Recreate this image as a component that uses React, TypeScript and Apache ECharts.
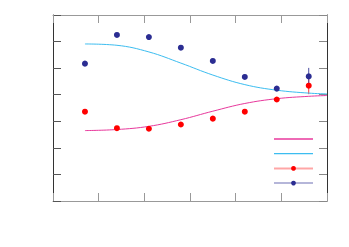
import React, { useEffect, useRef } from "react";
import * as echarts from "echarts";

const xPoints = [0.7, 1.4, 2.1, 2.8, 3.5, 4.2, 4.9, 5.6];
const redValues = [3.36, 2.74, 2.72, 2.88, 3.1, 3.36, 3.82, 4.34];
const blueValues = [5.17, 6.25, 6.17, 5.77, 5.27, 4.67, 4.23, 4.69];
const redErrors = [0.06, 0.06, 0.06, 0.06, 0.06, 0.06, 0.06, 0.32];
const blueErrors = [0.06, 0.06, 0.06, 0.06, 0.06, 0.06, 0.06, 0.32];

const curveX = [0.7, 1.4, 2.1, 2.8, 3.5, 4.2, 4.9, 5.6, 6.0];
const magentaCurve = [2.65, 2.69, 2.81, 3.06, 3.38, 3.67, 3.85, 3.94, 3.97];
const cyanCurve = [5.91, 5.86, 5.61, 5.19, 4.74, 4.38, 4.17, 4.06, 4.03];

const names = ["fit A", "fit B", "data A", "data B"];

export default function App() {
  const ref = useRef<HTMLDivElement>(null);
  useEffect(() => {
    if (!ref.current) return;
    const chart = echarts.init(ref.current, null, { renderer: "svg" });
    const pair = (xs: number[], ys: number[]) => xs.map((x, i) => [x, ys[i]]);
    const errData = (ys: number[], es: number[]) =>
      xPoints.map((x, i) => [x, ys[i] - es[i], ys[i] + es[i]]);
    const errSeries = (ys: number[], es: number[], color: string) => ({
      type: "custom",
      data: errData(ys, es),
      z: 1,
      renderItem: (_p: any, api: any) => {
        const a = api.coord([api.value(0), api.value(1)]);
        const b = api.coord([api.value(0), api.value(2)]);
        return {
          type: "line",
          shape: { x1: a[0], y1: a[1], x2: b[0], y2: b[1] },
          style: { stroke: color, lineWidth: 1 },
        };
      },
    });
    const axisX = (pos: string, color: string) => ({
      type: "value",
      position: pos,
      min: 0,
      max: 6,
      interval: 1,
      axisLine: { show: true, onZero: false, lineStyle: { color, width: 1 } },
      axisTick: { show: true, inside: true, length: 8, lineStyle: { color } },
      axisLabel: { show: false },
      splitLine: { show: false },
    });
    const axisY = (pos: string, color: string, tickColor: string) => ({
      type: "value",
      position: pos,
      min: 0,
      max: 7,
      interval: 1,
      axisLine: { show: true, onZero: false, lineStyle: { color, width: 1 } },
      axisTick: { show: true, inside: true, length: 8, lineStyle: { color: tickColor } },
      axisLabel: { show: false },
      splitLine: { show: false },
    });
    chart.setOption({
      animation: false,
      grid: { left: 53, right: 22, top: 15, bottom: 46 },
      xAxis: [axisX("bottom", "#999"), axisX("top", "#999")],
      yAxis: [axisY("left", "#333", "#555"), axisY("right", "#333", "#888")],
      legend: {
        orient: "vertical",
        left: 268,
        top: 131,
        itemWidth: 39,
        itemHeight: 6,
        itemGap: 9.3,
        formatter: () => "",
        selectedMode: false,
        data: [
          { name: names[0], itemStyle: { opacity: 0 }, lineStyle: { width: 1.3 } },
          { name: names[1], itemStyle: { opacity: 0 }, lineStyle: { width: 1.3 } },
          { name: names[2], lineStyle: { color: "#ff0000", opacity: 0.35, width: 2 } },
          { name: names[3], lineStyle: { color: "#2b2d92", opacity: 0.35, width: 2 } },
        ],
      },
      series: [
        {
          name: names[0],
          type: "line",
          data: pair(curveX, magentaCurve),
          smooth: 0.4,
          symbol: "none",
          lineStyle: { color: "#e8389c", width: 1 },
          itemStyle: { color: "#e8389c" },
          z: 2,
        },
        {
          name: names[1],
          type: "line",
          data: pair(curveX, cyanCurve),
          smooth: 0.4,
          symbol: "none",
          lineStyle: { color: "#3cbdf0", width: 1 },
          itemStyle: { color: "#3cbdf0" },
          z: 2,
        },
        errSeries(redValues, redErrors, "#ff3030"),
        errSeries(blueValues, blueErrors, "#4a4ca0"),
        {
          name: names[2],
          type: "line",
          data: pair(xPoints, redValues),
          symbol: "circle",
          symbolSize: 6,
          showAllSymbol: true,
          lineStyle: { opacity: 0 },
          itemStyle: { color: "#ff0000" },
          z: 3,
        },
        {
          name: names[3],
          type: "line",
          data: pair(xPoints, blueValues),
          symbol: "circle",
          symbolSize: 6,
          showAllSymbol: true,
          lineStyle: { opacity: 0 },
          itemStyle: { color: "#2b2d92" },
          z: 3,
        },
      ],
    });
    return () => chart.dispose();
  }, []);
  return <div ref={ref} style={{ width: 349, height: 247, position: "absolute", left: 0, top: 0 }} />;
}
